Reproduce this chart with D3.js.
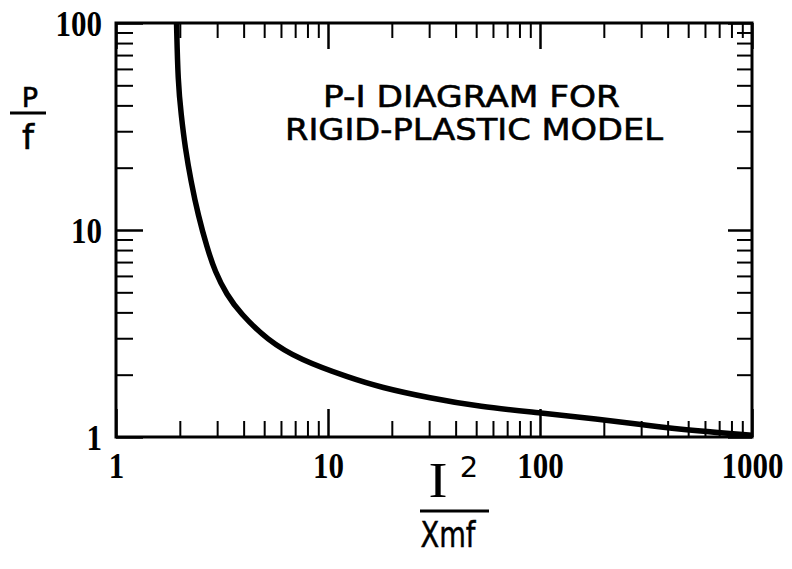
<!DOCTYPE html>
<html>
<head>
<meta charset="utf-8">
<script src="https://cdn.jsdelivr.net/npm/d3@7"></script>
<style>
  body { margin: 0; background: #fff; }
  svg { display: block; }
  .tick-label { font-family: "Liberation Serif", serif; font-weight: bold; font-size: 36px; fill: #000; }
  .title { font-family: "DejaVu Sans", sans-serif; font-size: 31px; fill: #000; stroke: #000; stroke-width: 0.6px; }
</style>
</head>
<body>
<svg id="chart" width="792" height="569"></svg>
<script>
// curve (I^2/Xmf , P/f)
var impulse_ratio = [1.93, 1.96, 2.03, 2.12, 2.26, 2.44, 2.69, 2.93, 3.33, 3.85, 5.17, 7.37, 12.7, 17.6, 30.3, 52, 98.6, 186, 318, 551, 1000];
var load_ratio    = [100, 51.9, 35.9, 24.9, 17.1, 11.8, 8.2, 6.3, 4.86, 3.97, 2.94, 2.36, 1.93, 1.74, 1.54, 1.40, 1.31, 1.22, 1.14, 1.07, 1.02];

var x_major = [1, 10, 100, 1000];
var y_major = [1, 10, 100];
var x_labels = ["1", "10", "100", "1000"];
var y_labels = ["1", "10", "100"];
var title_lines = ["P-I DIAGRAM FOR", "RIGID-PLASTIC MODEL"];

var svg = d3.select("#chart");
var p_left = 116, p_right = 752, p_top = 23, p_bottom = 437;

var x = d3.scaleLog().domain([1, 1000]).range([p_left, p_right]);
var y = d3.scaleLog().domain([1, 100]).range([p_bottom, p_top]);

var x_minor = x.ticks().filter(d => x_major.indexOf(d) < 0);
var y_minor = y.ticks().filter(d => y_major.indexOf(d) < 0);

function style_axis(g, w) {
    g.select(".domain").remove();
    g.selectAll(".tick line").attr("stroke", "#000").attr("stroke-width", w);
}

function style_labels(g) {
    g.selectAll("text")
        .attr("class", "tick-label")
        .attr("textLength", d => String(d).length * 15.5)
        .attr("lengthAdjust", "spacingAndGlyphs");
    g.attr("font-size", null).attr("font-family", null);
}

// inward ticks on all four sides, minor then major
svg.append("g").attr("transform", "translate(0," + p_bottom + ")")
    .call(d3.axisBottom(x).tickValues(x_minor).tickSizeInner(-16).tickSizeOuter(0).tickFormat(""))
    .call(g => style_axis(g, 2));
svg.append("g").attr("transform", "translate(0," + p_top + ")")
    .call(d3.axisTop(x).tickValues(x_minor).tickSizeInner(-15).tickSizeOuter(0).tickFormat(""))
    .call(g => style_axis(g, 2));
svg.append("g").attr("transform", "translate(" + p_left + ",0)")
    .call(d3.axisLeft(y).tickValues(y_minor).tickSizeInner(-17).tickSizeOuter(0).tickFormat(""))
    .call(g => style_axis(g, 2));
svg.append("g").attr("transform", "translate(" + p_right + ",0)")
    .call(d3.axisRight(y).tickValues(y_minor).tickSizeInner(-15).tickSizeOuter(0).tickFormat(""))
    .call(g => style_axis(g, 2));

svg.append("g").attr("transform", "translate(0," + p_bottom + ")")
    .call(d3.axisBottom(x).tickValues(x_major).tickSizeInner(-28).tickSizeOuter(0).tickPadding(15)
        .tickFormat((d, i) => x_labels[i]))
    .call(g => style_axis(g, 2.5))
    .call(style_labels);
svg.append("g").attr("transform", "translate(0," + p_top + ")")
    .call(d3.axisTop(x).tickValues(x_major).tickSizeInner(-26).tickSizeOuter(0).tickFormat(""))
    .call(g => style_axis(g, 2.5));
svg.append("g").attr("transform", "translate(" + p_left + ",0)")
    .call(d3.axisLeft(y).tickValues(y_major).tickSizeInner(-27).tickSizeOuter(0).tickPadding(14)
        .tickFormat((d, i) => y_labels[i]))
    .call(g => style_axis(g, 2.5))
    .call(style_labels)
    .call(g => g.selectAll("text").attr("dy", "0.34em"));
svg.append("g").attr("transform", "translate(" + p_right + ",0)")
    .call(d3.axisRight(y).tickValues(y_major).tickSizeInner(-24).tickSizeOuter(0).tickFormat(""))
    .call(g => style_axis(g, 2.5));

// frame
svg.append("rect")
    .attr("x", p_left).attr("y", p_top)
    .attr("width", p_right - p_left).attr("height", p_bottom - p_top)
    .attr("fill", "none").attr("stroke", "#000").attr("stroke-width", 3);

svg.append("clipPath").attr("id", "plot_clip")
    .append("rect").attr("x", p_left).attr("y", p_top)
    .attr("width", p_right - p_left).attr("height", p_bottom - p_top);

var points = impulse_ratio.map((d, i) => [d, load_ratio[i]]);
var line = d3.line()
    .x(d => x(d[0]))
    .y(d => y(d[1]))
    .curve(d3.curveBasis);

svg.append("path")
    .datum(points)
    .attr("clip-path", "url(#plot_clip)")
    .attr("d", line)
    .attr("fill", "none")
    .attr("stroke", "#000")
    .attr("stroke-width", 5.5)
    .attr("stroke-linejoin", "round");

// title block
svg.selectAll(".title")
    .data(title_lines)
    .enter()
    .append("text")
    .attr("class", "title")
    .attr("x", (d, i) => i == 0 ? 323 : 285)
    .attr("y", (d, i) => i == 0 ? 107 : 140)
    .attr("textLength", (d, i) => i == 0 ? 297 : 378)
    .attr("lengthAdjust", "spacingAndGlyphs")
    .text(d => d);

// P / f
var ylab = svg.append("g").attr("font-family", "DejaVu Sans, sans-serif").attr("fill", "#000")
    .attr("stroke", "#000").attr("stroke-width", 0.6);
ylab.append("text").attr("x", 30).attr("y", 107).attr("text-anchor", "middle").attr("font-size", 27).text("P");
ylab.append("line").attr("x1", 10).attr("x2", 46).attr("y1", 113).attr("y2", 113)
    .attr("stroke", "#000").attr("stroke-width", 3);
ylab.append("text").attr("x", 28).attr("y", 149).attr("text-anchor", "middle").attr("font-size", 34).text("f");

// I^2 / Xmf
var xlab = svg.append("g").attr("fill", "#000");
xlab.append("text").attr("x", 438).attr("y", 497).attr("text-anchor", "middle")
    .attr("font-family", "Liberation Serif, serif").attr("font-size", 50)
    .attr("textLength", 19).attr("lengthAdjust", "spacingAndGlyphs").text("I");
xlab.append("text").attr("x", 469).attr("y", 477).attr("text-anchor", "middle")
    .attr("font-family", "DejaVu Sans, sans-serif").attr("font-size", 29).text("2");
xlab.append("line").attr("x1", 420).attr("x2", 489).attr("y1", 511).attr("y2", 511)
    .attr("stroke", "#000").attr("stroke-width", 3);
xlab.append("text").attr("x", 448).attr("y", 547).attr("text-anchor", "middle")
    .attr("font-family", "DejaVu Sans, sans-serif").attr("font-size", 36)
    .attr("stroke", "#000").attr("stroke-width", 0.5)
    .attr("textLength", 55).attr("lengthAdjust", "spacingAndGlyphs").text("Xmf");
</script>
</body>
</html>
